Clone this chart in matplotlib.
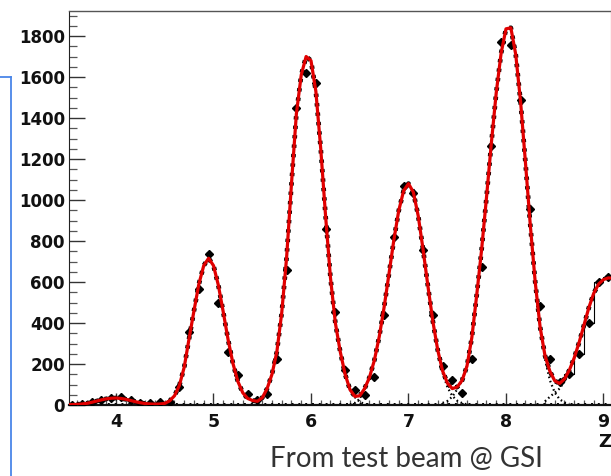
import matplotlib
matplotlib.use("Agg")
import matplotlib.pyplot as plt
from matplotlib.lines import Line2D
from matplotlib.ticker import MultipleLocator

# ---- data ----
fit_x = [3.50, 3.55, 3.60, 3.65, 3.70, 3.75, 3.80, 3.85, 3.90, 3.95,
         4.00, 4.05, 4.10, 4.15, 4.20, 4.25, 4.30, 4.35, 4.40, 4.45,
         4.50, 4.55, 4.60, 4.65, 4.70, 4.75, 4.80, 4.85, 4.90, 4.95,
         5.00, 5.05, 5.10, 5.15, 5.20, 5.25, 5.30, 5.35, 5.40, 5.45,
         5.50, 5.55, 5.60, 5.65, 5.70, 5.75, 5.80, 5.85, 5.90, 5.95,
         6.00, 6.05, 6.10, 6.15, 6.20, 6.25, 6.30, 6.35, 6.40, 6.45,
         6.50, 6.55, 6.60, 6.65, 6.70, 6.75, 6.80, 6.85, 6.90, 6.95,
         7.00, 7.05, 7.10, 7.15, 7.20, 7.25, 7.30, 7.35, 7.40, 7.45,
         7.50, 7.55, 7.60, 7.65, 7.70, 7.75, 7.80, 7.85, 7.90, 7.95,
         8.00, 8.05, 8.10, 8.15, 8.20, 8.25, 8.30, 8.35, 8.40, 8.45,
         8.50, 8.55, 8.60, 8.65, 8.70, 8.75, 8.80, 8.85, 8.90, 8.95,
         9.00, 9.05, 9.10]
fit_y = [1, 2, 3, 5, 8, 13, 19, 25, 30, 33,
         34, 32, 28, 22, 16, 11, 7, 5, 4, 5,
         8, 20, 45, 95, 185, 325, 460, 590, 680, 716,
         680, 584, 454, 318, 202, 115, 60, 32, 22, 18,
         35, 80, 150, 260, 450, 720, 1080, 1420, 1610, 1700,
         1680, 1530, 1250, 920, 620, 400, 260, 150, 75, 42,
         45, 80, 135, 218, 333, 477, 640, 805, 948, 1045,
         1080, 1038, 922, 757, 578, 408, 268, 166, 106, 80,
         88, 120, 190, 330, 537, 758, 1012, 1278, 1523, 1716,
         1835, 1840, 1710, 1478, 1181, 874, 599, 380, 241, 165,
         118, 105, 127, 170, 230, 305, 390, 475, 545, 590,
         612, 620, 618]

data_x = [3.55, 3.65, 3.75, 3.85, 3.95, 4.05, 4.15, 4.25, 4.35, 4.45,
          4.55, 4.65, 4.75, 4.85, 4.95, 5.05, 5.15, 5.25, 5.35, 5.45,
          5.55, 5.65, 5.75, 5.85, 5.95, 6.05, 6.15, 6.25, 6.35, 6.45,
          6.55, 6.65, 6.75, 6.85, 6.95, 7.05, 7.15, 7.25, 7.35, 7.45,
          7.55, 7.65, 7.75, 7.85, 7.95, 8.05, 8.15, 8.25, 8.35, 8.45,
          8.55, 8.65, 8.75, 8.85, 8.95, 9.05]
data_y = [2, 4, 13, 24, 34, 37, 23, 10, 10, 13,
          13, 86, 358, 566, 737, 496, 258, 146, 54, 25,
          54, 222, 660, 1450, 1620, 1572, 857, 452, 172, 73,
          49, 138, 439, 818, 1070, 1033, 756, 439, 190, 122,
          60, 223, 672, 1263, 1770, 1758, 1490, 955, 483, 225,
          110, 150, 250, 400, 600, 625]

# component tails crossing at the valleys (dotted "x" shapes)
valley1_x = [6.40, 6.45, 6.50, 6.55, 6.60]
valley1_left = [75, 38, 15, 5, 1]
valley1_right = [3, 10, 30, 75, 135]
valley2_x = [7.35, 7.40, 7.45, 7.50, 7.55, 7.60]
valley2_left = [156, 86, 44, 21, 9, 3]
valley2_right = [10, 20, 41, 77, 120, 190]
valley3_x = [8.40, 8.45, 8.50, 8.55, 8.60, 8.65]
valley3_left = [223, 121, 61, 28, 12, 5]
valley3_right = [18, 40, 60, 80, 115, 165]

step_x = [8.55, 8.65, 8.75, 8.85, 8.95, 9.05]
step_y = [110, 150, 250, 400, 600, 625]

x_ticks = [4, 5, 6, 7, 8, 9]
y_ticks = [0, 200, 400, 600, 800, 1000, 1200, 1400, 1600, 1800]

# ---- figure ----
W, H = 611, 476
fig = plt.figure(figsize=(W / 100, H / 100), dpi=100)
ax = fig.add_axes([69 / W, 71 / H, (610.5 - 69) / W, (405 - 11) / H])

dot = (0, (0.7, 1.3))
# dotted component histograms (appear around the fit)
ax.plot(fit_x, fit_y, color="black", ls=dot, lw=3.4, zorder=2)
for vx, vl, vr in [(valley1_x, valley1_left, valley1_right),
                   (valley2_x, valley2_left, valley2_right),
                   (valley3_x, valley3_left, valley3_right)]:
    ax.plot(vx, vl, color="black", ls=dot, lw=1.6, zorder=2)
    ax.plot(vx, vr, color="black", ls=dot, lw=1.6, zorder=2)
ax.plot([3.5, 9.1], [3, 3], color="black", ls=(0, (1, 2.5)), lw=1.4, zorder=2)

ax.step(step_x, step_y, where="mid", color="black", lw=0.8, zorder=2)

ax.errorbar(data_x, data_y, xerr=0.03, fmt="D", ms=4.4, color="black",
            ecolor="black", elinewidth=1.6, capsize=0, zorder=3)

ax.plot(fit_x, fit_y, color="#e00000", lw=2.3, zorder=4, solid_capstyle="round")

ax.set_xlim(3.518, 9.072)
ax.set_ylim(0, 1922)

ax.set_xticks(x_ticks)
ax.set_yticks(y_ticks)
ax.xaxis.set_minor_locator(MultipleLocator(0.1))
ax.yaxis.set_minor_locator(MultipleLocator(50))
ax.tick_params(axis="y", which="major", direction="in", length=11.5, width=1.0,
               color="#333333", labelsize=12, pad=3)
ax.tick_params(axis="y", which="minor", direction="in", length=5.8, width=0.9,
               color="#555555")
ax.tick_params(axis="x", which="major", direction="in", length=8.5, width=1.0,
               color="#333333", labelsize=12.5, pad=6)
ax.tick_params(axis="x", which="minor", direction="in", length=3.8, width=0.9,
               color="#555555")
for lab in ax.get_xticklabels() + ax.get_yticklabels():
    lab.set_fontweight("bold")
    lab.set_color("#111111")

ax.spines["left"].set_color("#222222")
ax.spines["bottom"].set_color("#111111")
ax.spines["bottom"].set_linewidth(1.6)
ax.spines["top"].set_color("#555555")
ax.spines["top"].set_linewidth(1.0)
ax.spines["right"].set_color("#f2b8b8")
ax.spines["right"].set_linewidth(1.0)

# axis title "Z"
fig.text(605 / W, 1 - 442 / H, "Z", fontsize=13, fontweight="bold",
         ha="center", va="center", color="#111111")

# caption
fig.text(406 / W, 1 - 459 / H, "From test beam @ GSI", fontsize=20,
         family="Lato", ha="center", va="center", color="#333333")

# blue frame from the slide layout
fig.add_artist(Line2D([0, 11 / W], [1 - 77 / H, 1 - 77 / H],
                      transform=fig.transFigure, color="#4a86e8", lw=1.3))
fig.add_artist(Line2D([11 / W, 11 / W], [1 - 77 / H, 0],
                      transform=fig.transFigure, color="#4a86e8", lw=1.3))

fig.savefig("out.png", dpi=100)
